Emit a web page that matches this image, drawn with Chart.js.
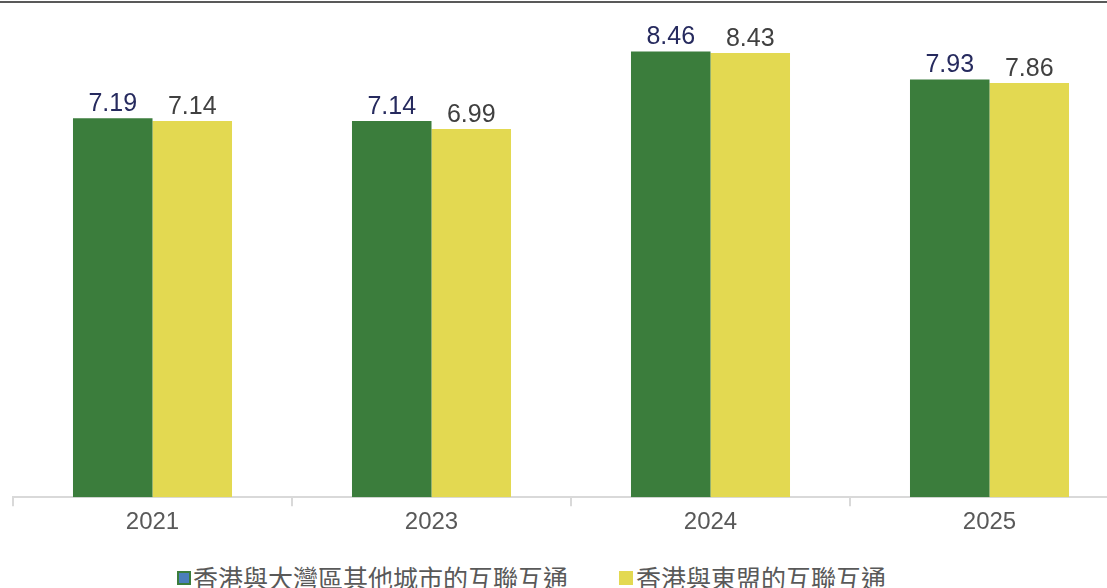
<!DOCTYPE html>
<html>
<head>
<meta charset="utf-8">
<script src="https://cdn.jsdelivr.net/npm/chart.js@4.4.1/dist/chart.umd.min.js"></script>
<style>
  html, body { margin: 0; padding: 0; background: #fff; }
  body { width: 1107px; height: 588px; overflow: hidden; position: relative; }
  #topline { position: absolute; left: 0; top: 1px; width: 1107px; height: 0; border-top: 2px solid #595959; }
  #chart { position: absolute; left: 0; top: 0; }
  .legend { position: absolute; top: 565px; font-family: "Noto Sans CJK TC", "Noto Sans", sans-serif;
            font-size: 25px; line-height: 25px; color: #595959; white-space: nowrap; }
  .swatch { position: absolute; top: 571px; width: 14px; height: 14px; box-sizing: border-box; }
</style>
</head>
<body>
<div id="topline"></div>
<canvas id="chart" width="1140" height="539"></canvas>
<div class="swatch" id="sw1" style="left:177px;"></div>
<div class="legend" id="lg1" style="left:193px;"></div>
<div class="swatch" id="sw2" style="left:619px;"></div>
<div class="legend" id="lg2" style="left:636px;"></div>
<script>
// Données du graphique
const annees = ['2021', '2023', '2024', '2025'];
const nomsSeries = ['香港與大灣區其他城市的互聯互通', '香港與東盟的互聯互通'];
const valeursGBA = [7.19, 7.14, 8.46, 7.93];
const valeursASEAN = [7.14, 6.99, 8.43, 7.86];

const vert = '#3b7d3c';
const jaune = '#e3d951';
const couleursEtiquettes = ['#262a5e', '#404040'];

// Légende en HTML
document.getElementById('lg1').textContent = nomsSeries[0];
document.getElementById('lg2').textContent = nomsSeries[1];
const sw1 = document.getElementById('sw1');
sw1.style.background = '#4a7ebb';
sw1.style.border = '2px solid ' + vert;
document.getElementById('sw2').style.background = jaune;

// Étiquettes de valeurs au-dessus des barres
const etiquettesValeurs = {
    id: 'etiquettesValeurs',
    afterDatasetsDraw(chart) {
        const ctx = chart.ctx;
        ctx.save();
        ctx.font = '25px "Liberation Sans", Arial, sans-serif';
        ctx.textAlign = 'center';
        ctx.textBaseline = 'alphabetic';
        chart.data.datasets.forEach((ds, i) => {
            chart.getDatasetMeta(i).data.forEach((bar, j) => {
                ctx.fillStyle = couleursEtiquettes[i];
                ctx.fillText(ds.data[j].toFixed(2), bar.x, bar.y - 7);
            });
        });
        ctx.restore();
    }
};

Chart.defaults.font.family = '"Liberation Sans", Arial, sans-serif';

const ctx = document.getElementById('chart').getContext('2d');
new Chart(ctx, {
    type: 'bar',
    data: {
        labels: annees,
        datasets: [
            { label: nomsSeries[0], data: valeursGBA, backgroundColor: vert,
              barPercentage: 1, categoryPercentage: 0.57 },
            { label: nomsSeries[1], data: valeursASEAN, backgroundColor: jaune,
              barPercentage: 1, categoryPercentage: 0.57 }
        ]
    },
    options: {
        responsive: false,
        animation: false,
        layout: { padding: { left: 13, right: 11, top: 23, bottom: 0 } },
        plugins: {
            legend: { display: false },
            tooltip: { enabled: false }
        },
        scales: {
            x: {
                grid: { drawOnChartArea: false, color: '#d9d9d9', lineWidth: 2, tickLength: 9 },
                border: { color: '#d9d9d9', width: 2 },
                ticks: { color: '#595959', font: { size: 24 }, padding: 2 }
            },
            y: {
                display: false,
                min: 0,
                max: 9
            }
        }
    },
    plugins: [etiquettesValeurs]
});
</script>
</body>
</html>
